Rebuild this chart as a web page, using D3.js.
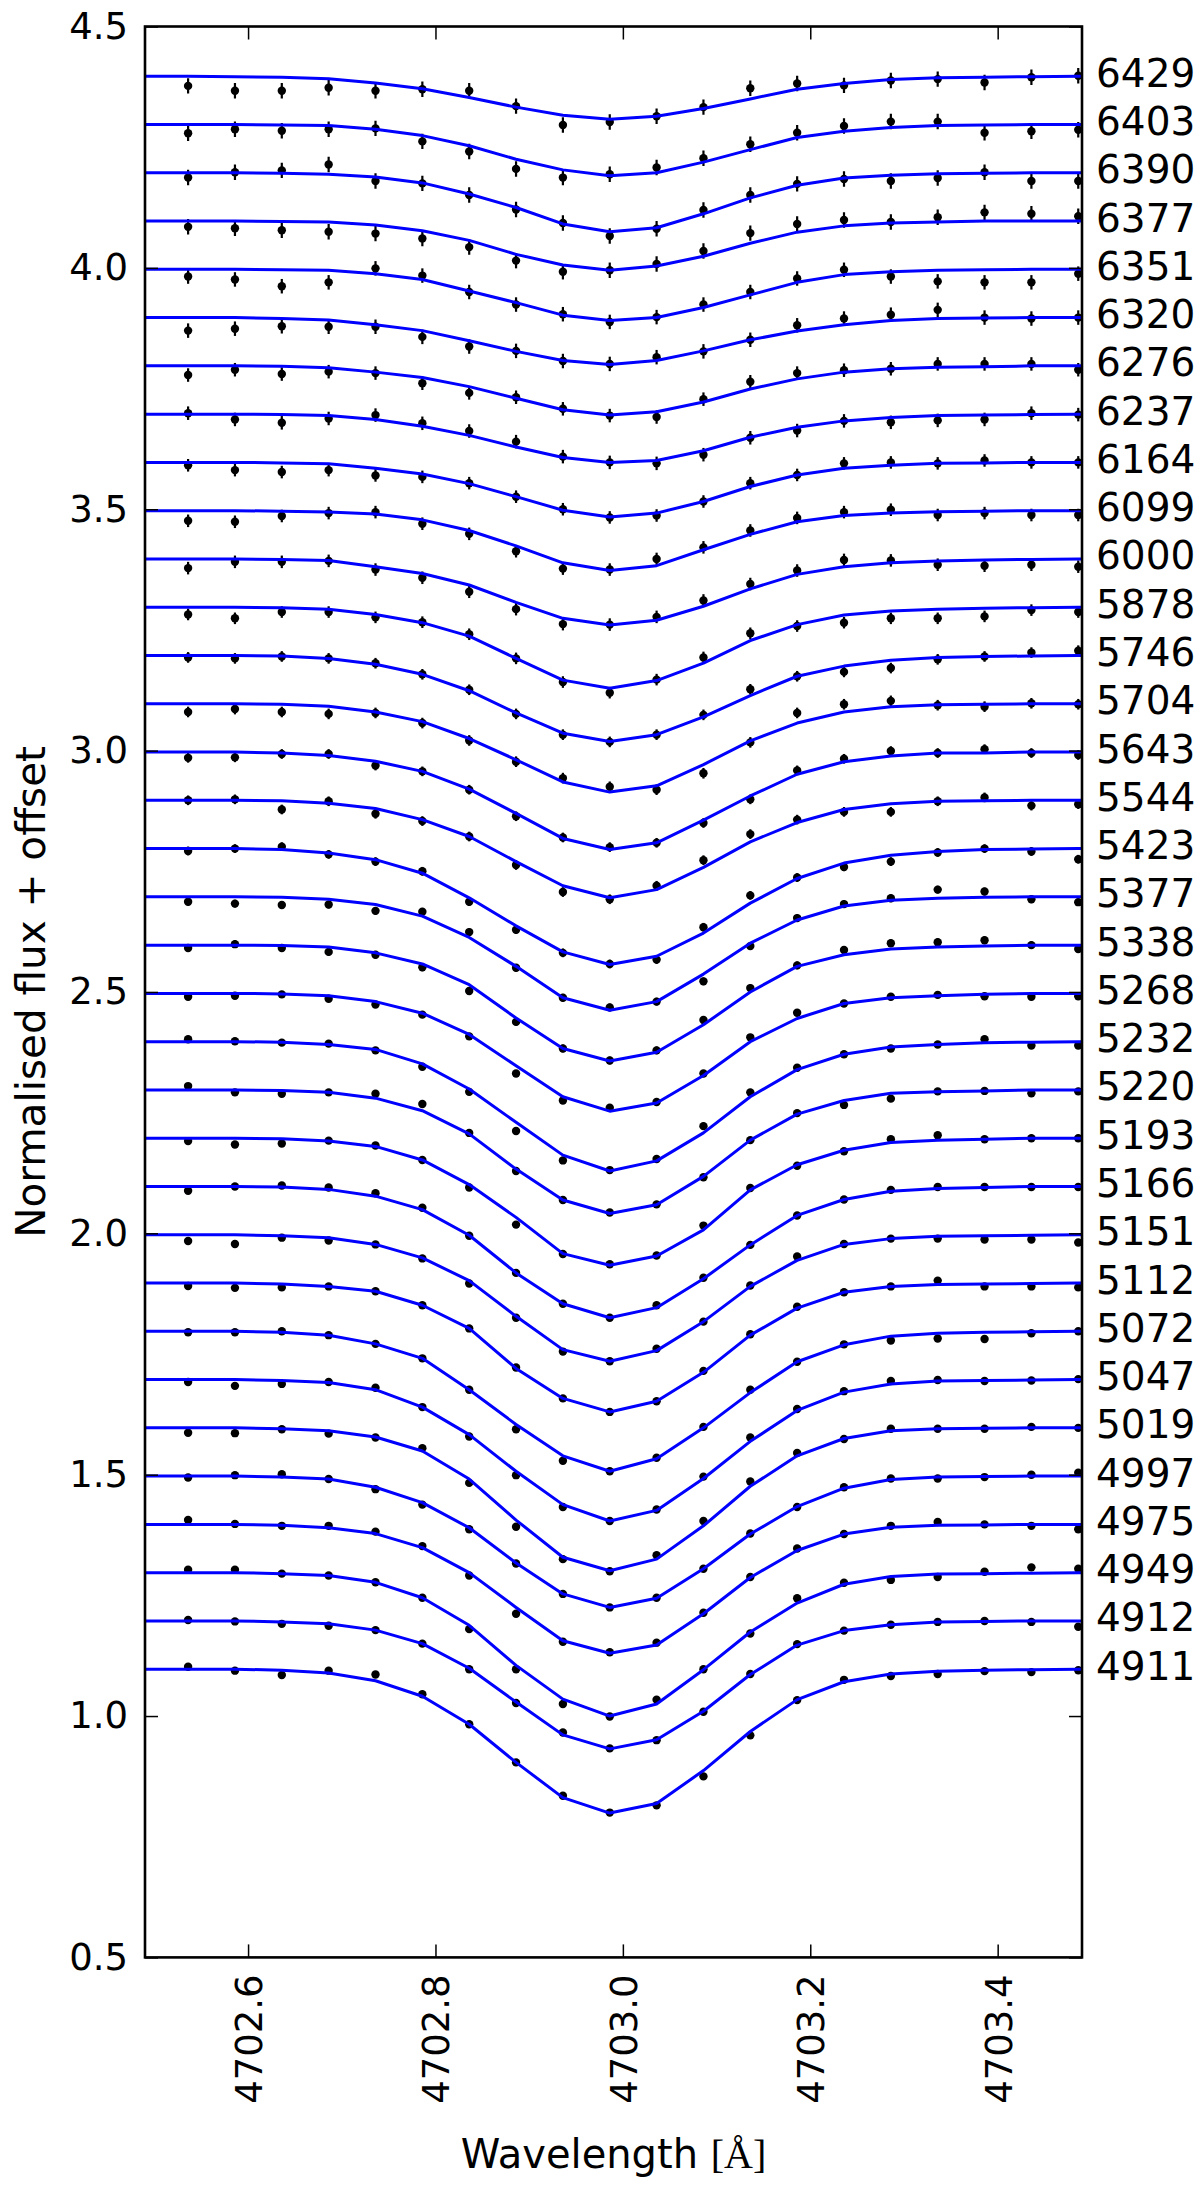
<!DOCTYPE html>
<html><head><meta charset="utf-8">
<script src="https://cdn.jsdelivr.net/npm/d3@7"></script>
<style>html,body{margin:0;padding:0;background:#fff;}svg{display:block;}</style>
</head><body>
<svg id="chart" width="1200" height="2192"></svg>
<script>
// ---------- data ----------
const wavelengths = [4702.536,4702.586,4702.636,4702.686,4702.736,4702.786,4702.836,4702.886,4702.936,4702.986,4703.036,4703.086,4703.136,4703.186,4703.236,4703.286,4703.336,4703.386,4703.436,4703.486];
const modelWavelengths = [4702.486,4702.536,4702.586,4702.636,4702.686,4702.736,4702.786,4702.836,4702.886,4702.936,4702.986,4703.036,4703.086,4703.136,4703.186,4703.236,4703.286,4703.336,4703.386,4703.436,4703.486,4703.536];
const labels = ["6429","6403","6390","6377","6351","6320","6276","6237","6164","6099","6000","5878","5746","5704","5643","5544","5423","5377","5338","5268","5232","5220","5193","5166","5151","5112","5072","5047","5019","4997","4975","4949","4912","4911"];
const offsets = [3.4,3.3,3.2,3.1,3.0,2.9,2.8,2.7,2.6,2.5,2.4,2.3,2.2,2.1,2.0,1.9,1.8,1.7,1.6,1.5,1.4,1.3,1.2,1.1,1.0,0.9,0.8,0.7,0.6,0.5,0.4,0.3,0.2,0.1];
const errors = [0.016,0.016,0.016,0.016,0.015,0.015,0.014,0.014,0.013,0.013,0.013,0.012,0.011,0.011,0.010,0.010,0.009,0.008,0.008,0.007,0.007,0.006,0.006,0.006,0.005,0.005,0.005,0.005,0.005,0.005,0.005,0.005,0.005,0.005];
const xTicks = [4702.6,4702.8,4703.0,4703.2,4703.4];
const yTicks = [0.5,1.0,1.5,2.0,2.5,3.0,3.5,4.0,4.5];

const model_6429=[0.997,0.997,0.996,0.995,0.992,0.983,0.971,0.953,0.933,0.916,0.908,0.914,0.930,0.950,0.970,0.982,0.990,0.994,0.995,0.996,0.997,0.997];
const obs_6429=[0.977,0.967,0.967,0.973,0.967,0.970,0.967,0.935,0.896,0.902,0.914,0.933,0.972,0.982,0.978,0.988,0.991,0.984,0.995,0.998];
const model_6403=[0.997,0.997,0.997,0.996,0.995,0.987,0.974,0.953,0.925,0.903,0.891,0.897,0.919,0.945,0.970,0.983,0.991,0.995,0.996,0.997,0.997,0.997];
const obs_6403=[0.979,0.987,0.984,0.987,0.989,0.962,0.941,0.905,0.887,0.894,0.908,0.927,0.956,0.980,0.994,1.003,1.003,0.980,0.983,0.986];
const model_6390=[0.997,0.997,0.997,0.996,0.994,0.988,0.976,0.953,0.925,0.891,0.875,0.883,0.912,0.945,0.971,0.986,0.992,0.995,0.996,0.997,0.997,0.997];
const obs_6390=[0.987,0.998,1.002,1.014,0.980,0.975,0.951,0.921,0.893,0.866,0.881,0.920,0.951,0.974,0.984,0.980,0.986,0.998,0.980,0.980];
const model_6377=[0.997,0.997,0.997,0.996,0.995,0.989,0.977,0.957,0.928,0.906,0.895,0.904,0.924,0.951,0.974,0.987,0.993,0.995,0.997,0.997,0.997,0.997];
const obs_6377=[0.985,0.982,0.978,0.975,0.971,0.961,0.943,0.915,0.892,0.895,0.908,0.935,0.972,0.991,0.999,0.995,1.005,1.015,1.012,1.007];
const model_6351=[0.997,0.997,0.997,0.996,0.995,0.988,0.976,0.952,0.928,0.902,0.891,0.897,0.918,0.944,0.970,0.986,0.992,0.995,0.996,0.997,0.997,0.997];
const obs_6351=[0.982,0.976,0.962,0.970,0.999,0.984,0.950,0.924,0.904,0.888,0.898,0.924,0.950,0.978,0.996,0.982,0.972,0.970,0.970,0.988];
const model_6320=[0.997,0.997,0.997,0.995,0.992,0.982,0.970,0.949,0.927,0.908,0.900,0.908,0.928,0.951,0.969,0.982,0.991,0.995,0.996,0.997,0.997,0.997];
const obs_6320=[0.970,0.974,0.979,0.978,0.978,0.957,0.937,0.928,0.907,0.901,0.915,0.927,0.951,0.981,0.995,1.003,1.013,0.997,0.995,0.997];
const model_6276=[0.997,0.997,0.997,0.996,0.993,0.984,0.973,0.954,0.930,0.906,0.895,0.902,0.922,0.949,0.970,0.984,0.991,0.994,0.995,0.997,0.997,0.997];
const obs_6276=[0.978,0.989,0.980,0.985,0.982,0.961,0.941,0.932,0.908,0.894,0.891,0.928,0.964,0.982,0.988,0.991,1.001,1.001,1.001,0.989];
const model_6237=[0.997,0.997,0.997,0.996,0.994,0.986,0.972,0.953,0.929,0.907,0.897,0.901,0.921,0.949,0.970,0.983,0.990,0.994,0.995,0.996,0.997,0.997];
const obs_6237=[0.999,0.986,0.979,0.988,0.995,0.978,0.962,0.940,0.909,0.897,0.895,0.913,0.948,0.963,0.983,0.980,0.984,0.986,0.999,0.996];
const model_6164=[0.997,0.997,0.997,0.996,0.994,0.985,0.973,0.953,0.926,0.898,0.884,0.892,0.916,0.947,0.971,0.985,0.991,0.995,0.996,0.997,0.997,0.997];
const obs_6164=[0.991,0.981,0.977,0.981,0.970,0.967,0.954,0.926,0.900,0.883,0.887,0.916,0.954,0.971,0.995,0.997,0.995,1.001,0.997,0.997];
const model_6099=[0.997,0.997,0.997,0.996,0.994,0.990,0.978,0.956,0.924,0.889,0.873,0.883,0.916,0.948,0.974,0.987,0.992,0.995,0.996,0.997,0.997,0.997];
const obs_6099=[0.976,0.974,0.986,0.992,0.994,0.970,0.949,0.913,0.877,0.875,0.897,0.921,0.956,0.982,0.994,0.999,0.988,0.992,0.988,0.988];
const model_6000=[0.997,0.997,0.997,0.996,0.994,0.981,0.967,0.943,0.907,0.874,0.860,0.870,0.899,0.935,0.965,0.981,0.989,0.993,0.995,0.996,0.997,0.997];
const obs_6000=[0.978,0.991,0.991,0.993,0.975,0.958,0.929,0.893,0.862,0.861,0.877,0.911,0.945,0.973,0.995,0.994,0.985,0.983,0.985,0.981];
const model_5878=[0.997,0.997,0.997,0.996,0.993,0.982,0.965,0.937,0.891,0.846,0.829,0.845,0.881,0.928,0.961,0.981,0.989,0.993,0.995,0.996,0.997,0.997];
const obs_5878=[0.982,0.974,0.987,0.987,0.976,0.966,0.941,0.891,0.842,0.820,0.847,0.893,0.943,0.958,0.965,0.974,0.974,0.978,0.991,0.987];
const model_5746=[0.997,0.997,0.997,0.996,0.991,0.979,0.958,0.924,0.878,0.836,0.819,0.833,0.870,0.914,0.954,0.975,0.987,0.993,0.995,0.996,0.997,0.997];
const obs_5746=[0.993,0.991,0.995,0.991,0.981,0.958,0.926,0.876,0.833,0.818,0.833,0.874,0.927,0.954,0.963,0.971,0.989,0.995,1.003,1.007];
const model_5704=[0.997,0.997,0.997,0.996,0.992,0.980,0.960,0.925,0.881,0.835,0.814,0.827,0.871,0.920,0.957,0.980,0.991,0.995,0.996,0.997,0.997,0.997];
const obs_5704=[0.980,0.986,0.980,0.976,0.978,0.957,0.921,0.877,0.843,0.825,0.819,0.853,0.917,0.978,0.996,1.003,0.994,0.991,0.998,0.996];
const model_5643=[0.997,0.997,0.997,0.995,0.990,0.978,0.957,0.920,0.870,0.818,0.795,0.809,0.856,0.906,0.951,0.977,0.989,0.995,0.995,0.997,0.997,0.997];
const obs_5643=[0.985,0.986,0.993,0.993,0.969,0.957,0.919,0.864,0.820,0.800,0.809,0.850,0.899,0.959,0.983,0.999,0.995,1.003,0.995,0.991];
const model_5544=[0.997,0.997,0.997,0.996,0.991,0.980,0.957,0.922,0.870,0.820,0.795,0.812,0.858,0.911,0.951,0.978,0.990,0.995,0.996,0.997,0.997,0.997];
const obs_5544=[0.997,0.999,0.978,0.995,0.969,0.954,0.922,0.863,0.807,0.792,0.820,0.873,0.927,0.957,0.973,0.973,0.995,1.003,0.986,0.989];
const model_5423=[0.997,0.997,0.997,0.995,0.988,0.974,0.946,0.895,0.837,0.783,0.757,0.774,0.822,0.884,0.935,0.967,0.983,0.991,0.995,0.996,0.997,0.997];
const obs_5423=[0.992,0.997,1.001,0.985,0.970,0.950,0.887,0.829,0.781,0.758,0.767,0.834,0.900,0.937,0.959,0.970,0.989,0.997,0.991,0.975];
const model_5377=[0.997,0.997,0.997,0.996,0.992,0.981,0.957,0.913,0.853,0.788,0.762,0.780,0.837,0.901,0.949,0.978,0.990,0.994,0.996,0.997,0.997,0.997];
const obs_5377=[0.987,0.983,0.980,0.981,0.968,0.966,0.924,0.850,0.788,0.768,0.780,0.822,0.895,0.953,0.982,0.994,1.012,1.008,0.992,0.986];
const model_5338=[0.997,0.997,0.997,0.996,0.993,0.981,0.958,0.915,0.846,0.783,0.757,0.775,0.832,0.900,0.953,0.977,0.989,0.993,0.995,0.997,0.997,0.997];
const obs_5338=[0.991,0.999,0.991,0.983,0.977,0.951,0.902,0.838,0.783,0.758,0.779,0.842,0.908,0.955,0.987,1.001,1.003,1.007,0.997,0.989];
const model_5268=[0.997,0.997,0.997,0.996,0.992,0.980,0.956,0.912,0.847,0.783,0.753,0.770,0.827,0.897,0.945,0.976,0.988,0.992,0.995,0.997,0.997,0.997];
const obs_5268=[0.990,0.992,0.995,0.986,0.974,0.953,0.908,0.831,0.775,0.760,0.772,0.831,0.906,0.957,0.976,0.990,0.994,0.991,0.990,0.991];
const model_5232=[0.997,0.997,0.997,0.996,0.991,0.981,0.951,0.899,0.830,0.762,0.729,0.750,0.808,0.883,0.939,0.971,0.986,0.991,0.995,0.996,0.997,0.997];
const obs_5232=[1.002,0.998,0.995,0.993,0.979,0.945,0.893,0.812,0.751,0.731,0.754,0.822,0.892,0.943,0.971,0.983,0.991,1.002,0.989,0.989];
const model_5220=[0.997,0.997,0.997,0.996,0.992,0.980,0.954,0.906,0.833,0.769,0.741,0.759,0.818,0.893,0.947,0.975,0.990,0.993,0.995,0.997,0.997,0.997];
const obs_5220=[1.005,0.992,0.989,0.992,0.989,0.968,0.908,0.829,0.769,0.743,0.760,0.816,0.893,0.949,0.966,0.979,0.994,0.995,0.990,0.994];
const model_5193=[0.997,0.997,0.997,0.996,0.991,0.980,0.952,0.901,0.833,0.758,0.734,0.753,0.807,0.890,0.942,0.972,0.988,0.993,0.995,0.997,0.997,0.997];
const obs_5193=[0.991,0.984,0.986,0.992,0.982,0.952,0.895,0.818,0.757,0.736,0.754,0.816,0.894,0.940,0.970,0.995,1.003,0.995,0.997,0.997];
const model_5166=[0.997,0.997,0.997,0.996,0.991,0.977,0.949,0.896,0.818,0.754,0.725,0.746,0.806,0.876,0.937,0.970,0.987,0.993,0.995,0.997,0.997,0.997];
const obs_5166=[0.988,0.997,0.999,0.995,0.983,0.953,0.895,0.818,0.754,0.725,0.751,0.808,0.876,0.937,0.970,0.990,0.996,0.996,0.996,0.996];
const model_5151=[0.997,0.997,0.997,0.995,0.991,0.977,0.949,0.902,0.828,0.759,0.735,0.757,0.817,0.890,0.944,0.977,0.989,0.994,0.995,0.996,0.997,0.997];
const obs_5151=[0.984,0.978,0.991,0.985,0.977,0.948,0.896,0.825,0.755,0.735,0.761,0.817,0.892,0.952,0.978,0.989,0.989,0.987,0.987,0.981];
const model_5112=[0.997,0.997,0.997,0.995,0.990,0.980,0.951,0.903,0.820,0.758,0.730,0.752,0.812,0.889,0.945,0.978,0.990,0.994,0.995,0.996,0.997,0.997];
const obs_5112=[0.991,0.987,0.988,0.990,0.980,0.951,0.903,0.822,0.758,0.730,0.752,0.815,0.891,0.948,0.978,0.990,1.002,0.990,0.990,0.988];
const model_5072=[0.997,0.997,0.997,0.995,0.989,0.971,0.941,0.876,0.804,0.739,0.707,0.733,0.797,0.870,0.934,0.969,0.987,0.993,0.995,0.996,0.997,0.997];
const obs_5072=[0.995,0.995,0.997,0.989,0.971,0.941,0.876,0.794,0.729,0.707,0.735,0.799,0.876,0.934,0.970,0.978,0.982,0.981,0.993,0.997];
const model_5047=[0.997,0.997,0.997,0.995,0.991,0.976,0.940,0.883,0.807,0.738,0.704,0.726,0.792,0.869,0.933,0.971,0.988,0.994,0.995,0.996,0.997,0.997];
const obs_5047=[0.992,0.984,0.988,0.992,0.980,0.940,0.879,0.799,0.733,0.704,0.728,0.796,0.877,0.936,0.973,0.994,0.996,0.994,0.995,0.998];
const model_5019=[0.997,0.997,0.997,0.995,0.991,0.978,0.949,0.891,0.806,0.729,0.701,0.725,0.794,0.876,0.939,0.975,0.991,0.995,0.996,0.997,0.997,0.997];
const obs_5019=[0.987,0.986,0.994,0.985,0.977,0.955,0.883,0.792,0.725,0.700,0.733,0.804,0.886,0.945,0.974,0.995,0.995,0.995,0.999,0.997];
const model_4997=[0.997,0.997,0.997,0.995,0.991,0.974,0.942,0.890,0.817,0.753,0.725,0.744,0.805,0.877,0.934,0.972,0.990,0.995,0.996,0.997,0.997,0.997];
const obs_4997=[0.994,0.999,1.001,0.991,0.970,0.938,0.887,0.816,0.753,0.725,0.745,0.805,0.878,0.933,0.974,0.992,0.992,0.995,1.000,1.004];
const model_4975=[0.997,0.997,0.997,0.995,0.990,0.978,0.949,0.897,0.825,0.756,0.730,0.747,0.812,0.887,0.943,0.977,0.991,0.995,0.996,0.997,0.997,0.997];
const obs_4975=[1.006,0.998,0.994,0.994,0.982,0.952,0.891,0.812,0.754,0.732,0.752,0.814,0.888,0.947,0.977,0.994,1.002,0.997,0.994,0.987];
const model_4949=[0.997,0.997,0.997,0.995,0.991,0.977,0.945,0.888,0.805,0.735,0.700,0.725,0.796,0.874,0.934,0.973,0.989,0.994,0.995,0.996,0.997,0.997];
const obs_4949=[1.003,1.003,0.995,0.991,0.977,0.945,0.880,0.797,0.725,0.699,0.734,0.797,0.871,0.944,0.976,0.982,0.988,0.999,1.008,1.005];
const model_4912=[0.997,0.997,0.997,0.995,0.991,0.978,0.950,0.899,0.829,0.761,0.732,0.751,0.810,0.886,0.947,0.977,0.989,0.995,0.996,0.997,0.997,0.997];
const obs_4912=[0.999,0.996,0.991,0.987,0.978,0.950,0.897,0.827,0.766,0.733,0.750,0.809,0.887,0.949,0.977,0.989,0.995,0.997,0.995,0.985];
const model_4911=[0.997,0.997,0.997,0.995,0.989,0.973,0.941,0.883,0.804,0.731,0.699,0.719,0.787,0.868,0.934,0.971,0.987,0.993,0.995,0.996,0.997,0.997];
const obs_4911=[1.002,0.994,0.985,0.994,0.986,0.945,0.883,0.804,0.735,0.700,0.715,0.775,0.860,0.933,0.975,0.983,0.987,0.993,0.991,0.995];

const models = [model_6429,model_6403,model_6390,model_6377,model_6351,model_6320,model_6276,model_6237,model_6164,model_6099,model_6000,model_5878,model_5746,model_5704,model_5643,model_5544,model_5423,model_5377,model_5338,model_5268,model_5232,model_5220,model_5193,model_5166,model_5151,model_5112,model_5072,model_5047,model_5019,model_4997,model_4975,model_4949,model_4912,model_4911];
const observations = [obs_6429,obs_6403,obs_6390,obs_6377,obs_6351,obs_6320,obs_6276,obs_6237,obs_6164,obs_6099,obs_6000,obs_5878,obs_5746,obs_5704,obs_5643,obs_5544,obs_5423,obs_5377,obs_5338,obs_5268,obs_5232,obs_5220,obs_5193,obs_5166,obs_5151,obs_5112,obs_5072,obs_5047,obs_5019,obs_4997,obs_4975,obs_4949,obs_4912,obs_4911];

// ---------- drawing ----------
const FONT = "'DejaVu Sans', Verdana, sans-serif";
const M = {left:145, right:1082, top:26.5, bottom:1957.4};
const x = d3.scaleLinear().domain([4702.49, 4703.49]).range([M.left, M.right]);
const y = d3.scaleLinear().domain([0.5, 4.5]).range([M.bottom, M.top]);
const svg = d3.select('#chart');
svg.append('rect').attr('width',1200).attr('height',2192).attr('fill','#fff');

svg.append('defs').append('clipPath').attr('id','clip')
  .append('rect').attr('x',M.left).attr('y',M.top)
  .attr('width',M.right-M.left).attr('height',M.bottom-M.top);

const spectra = labels.map((lab,i)=>({label:lab, offset:offsets[i], err:errors[i], model:models[i], obs:observations[i]}));
const plot = svg.append('g').attr('clip-path','url(#clip)');

// observations with error bars
spectra.forEach(s=>{
  const g = plot.append('g');
  g.selectAll('line').data(s.obs).join('line')
    .attr('x1',(d,i)=>x(wavelengths[i])).attr('x2',(d,i)=>x(wavelengths[i]))
    .attr('y1',d=>y(d+s.offset-s.err)).attr('y2',d=>y(d+s.offset+s.err))
    .attr('stroke','#000').attr('stroke-width',2.2);
  g.selectAll('circle').data(s.obs).join('circle')
    .attr('cx',(d,i)=>x(wavelengths[i])).attr('cy',d=>y(d+s.offset))
    .attr('r',4.2).attr('fill','#000');
});
// model lines
const line = d3.line().x((d,i)=>x(modelWavelengths[i]));
spectra.forEach(s=>{
  plot.append('path').datum(s.model)
    .attr('d', line.y(d=>y(d+s.offset)))
    .attr('fill','none').attr('stroke','#0000ff').attr('stroke-width',3)
    .attr('stroke-linejoin','round');
});

// axes
const TL = 13;
const axB = svg.append('g').attr('transform',`translate(0,${M.bottom})`)
  .call(d3.axisBottom(x).tickValues(xTicks).tickSizeInner(-TL).tickSizeOuter(0).tickFormat(d3.format('.1f')));
const axT = svg.append('g').attr('transform',`translate(0,${M.top})`)
  .call(d3.axisTop(x).tickValues(xTicks).tickSizeInner(-TL).tickSizeOuter(0).tickFormat(''));
const axL = svg.append('g').attr('transform',`translate(${M.left},0)`)
  .call(d3.axisLeft(y).tickValues(yTicks).tickSizeInner(-TL).tickSizeOuter(0).tickPadding(17).tickFormat(d3.format('.1f')));
const axR = svg.append('g').attr('transform',`translate(${M.right},0)`)
  .call(d3.axisRight(y).tickValues(yTicks).tickSizeInner(-TL).tickSizeOuter(0).tickFormat(''));
[axB,axT,axL,axR].forEach(a=>{
  a.select('.domain').remove();
  a.selectAll('.tick line').attr('stroke','#000').attr('stroke-width',1.5);
  a.selectAll('text').attr('font-family',FONT).attr('font-size',37).attr('fill','#000');
});
axB.selectAll('.tick text')
  .attr('x',null).attr('y',null).attr('dy',null)
  .attr('text-anchor','end')
  .attr('transform','translate(13.5,17) rotate(-90)');

// frame
svg.append('rect').attr('x',M.left).attr('y',M.top)
  .attr('width',M.right-M.left).attr('height',M.bottom-M.top)
  .attr('fill','none').attr('stroke','#000').attr('stroke-width',2.6);

// spectrum labels
svg.append('g').selectAll('text').data(spectra).join('text')
  .attr('x',1096).attr('y',d=>y(d.offset+1.0)+12)
  .attr('font-family',FONT).attr('font-size',39).attr('fill','#000')
  .text(d=>d.label);

// axis titles
svg.append('text')
  .attr('transform',`translate(45,${(M.top+M.bottom)/2}) rotate(-90)`)
  .attr('text-anchor','middle').attr('font-family',FONT).attr('font-size',40.5).attr('fill','#000')
  .text('Normalised flux + offset');
const xt = svg.append('text')
  .attr('x',(M.left+M.right)/2).attr('y',2168)
  .attr('text-anchor','middle').attr('font-family',FONT).attr('font-size',40).attr('fill','#000');
xt.append('tspan').text('Wavelength ');
xt.append('tspan').attr('font-family',"'Liberation Serif', 'DejaVu Serif', serif").text('[Å]');
</script>
</body></html>
